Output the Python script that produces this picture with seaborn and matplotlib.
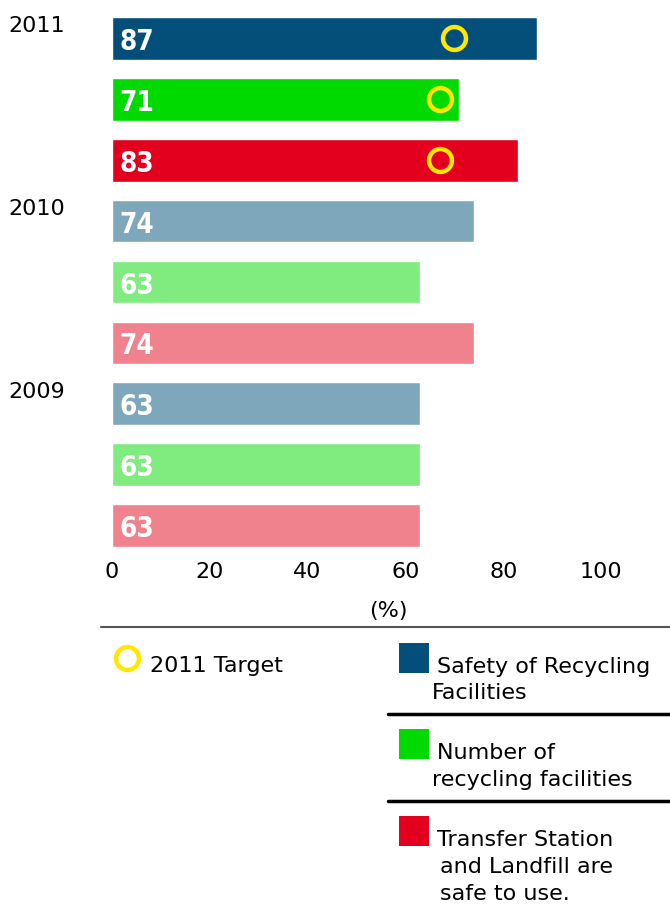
import matplotlib
matplotlib.use("Agg")
import matplotlib.pyplot as plt
import matplotlib.transforms as mtransforms
from matplotlib.lines import Line2D
from matplotlib.patches import Rectangle
import seaborn as sns
import pandas as pd

# ---------------- data ----------------
years = ["2011", "2010", "2009"]
measures = ["Safety of Recycling Facilities",
            "Number of recycling facilities",
            "Transfer Station and Landfill are safe to use."]
values_2011 = [87, 71, 83]
values_2010 = [74, 63, 74]
values_2009 = [63, 63, 63]
targets_2011 = [70, 67, 67]
x_ticks = [0, 20, 40, 60, 80, 100]
x_label = "(%)"
target_label = "2011 Target"
legend_lines = [["Safety of Recycling", "Facilities"],
                ["Number of", "recycling facilities"],
                ["Transfer Station", "and Landfill are", "safe to use."]]

# ---------------- styles ----------------
colors_2011 = ["#034F7A", "#00DA00", "#E2001E"]
colors_old = ["#7FA7BC", "#80EC80", "#F0828E"]
target_color = "#FFE800"

rows, vals, cols = [], [], []
for year, values in zip(years, [values_2011, values_2010, values_2009]):
    for k, (m, v) in enumerate(zip(measures, values)):
        rows.append(f"{year} | {m}")
        vals.append(v)
        cols.append(colors_2011[k] if year == "2011" else colors_old[k])
df = pd.DataFrame({"row": rows, "value": vals})
palette = dict(zip(rows, cols))

sns.set_theme(style="white")
plt.rcParams["font.family"] = ["DejaVu Sans"]
plt.rcParams["text.color"] = "black"
plt.rcParams["xtick.color"] = "black"

W, H = 670, 911
fig = plt.figure(figsize=(W / 100, H / 100), dpi=100)
fig.patch.set_facecolor("white")

ax_top, ax_bot = 8, 556
ax = fig.add_axes([112 / W, (H - ax_bot) / H, 489 / W, (ax_bot - ax_top) / H])

sns.barplot(data=df, x="value", y="row", hue="row", palette=palette,
            dodge=False, legend=False, width=0.70, saturation=1,
            orient="h", ax=ax)

ax.set_xlim(0, 100)
ax.set_ylim(len(rows) - 0.5, -0.5)
ax.set_xticks(x_ticks)
ax.set_xticklabels([str(t) for t in x_ticks])
ax.set_yticks([])
ax.set_xlabel("")
ax.set_ylabel("")
for s in ax.spines.values():
    s.set_visible(False)
ax.tick_params(axis="x", length=0, pad=4, labelsize=16, colors="black")
ax.set_facecolor("white")

# value labels inside bars
for i, v in enumerate(vals):
    ax.text(1.6, i + 0.19, str(v), color="white", fontsize=20,
            fontweight="bold", fontstretch="condensed", ha="left", va="baseline",
            family="DejaVu Sans")

# 2011 target markers
ax.plot(targets_2011, list(range(len(targets_2011))), ls="none", marker="o",
        ms=16.5, mfc="none", mec=target_color, mew=3.2, zorder=5)

# year labels
blend = mtransforms.blended_transform_factory(fig.transFigure, ax.transData)
for g, year in enumerate(years):
    ax.text(8 / W, g * 3 - 0.2, year, transform=blend, fontsize=16,
            ha="left", va="center", color="black")


def fx(x):
    return x / W


def fy(y):
    return 1 - y / H


# axis title
fig.text(fx(388), fy(617), x_label, fontsize=16, ha="center", va="baseline")

# separator lines
fig.add_artist(Line2D([fx(101), fx(670)], [fy(627), fy(627)], color="#555555", lw=1.5))
for yy in [714, 801]:
    fig.add_artist(Line2D([fx(388), fx(670)], [fy(yy), fy(yy)], color="black", lw=2.5))

# target legend
fig.add_artist(Line2D([fx(127)], [fy(658)], ls="none", marker="o", ms=16.5,
                      mfc="none", mec=target_color, mew=3.2))
fig.text(fx(150), fy(672), target_label, fontsize=16, ha="left", va="baseline")

# color legend
sq_tops = [643, 729, 816]
line_pos = [[(437, 673), (432, 699)],
            [(437, 759), (432, 786)],
            [(437, 846), (440, 873), (440, 900)]]
for k in range(3):
    fig.add_artist(Rectangle((fx(399), fy(sq_tops[k] + 30)), 30 / W, 30 / H,
                             facecolor=colors_2011[k], edgecolor="none",
                             transform=fig.transFigure))
    for txt, (xx, yy) in zip(legend_lines[k], line_pos[k]):
        fig.text(fx(xx), fy(yy), txt, fontsize=16, ha="left", va="baseline")

fig.savefig("out.png", dpi=100, facecolor="white")
